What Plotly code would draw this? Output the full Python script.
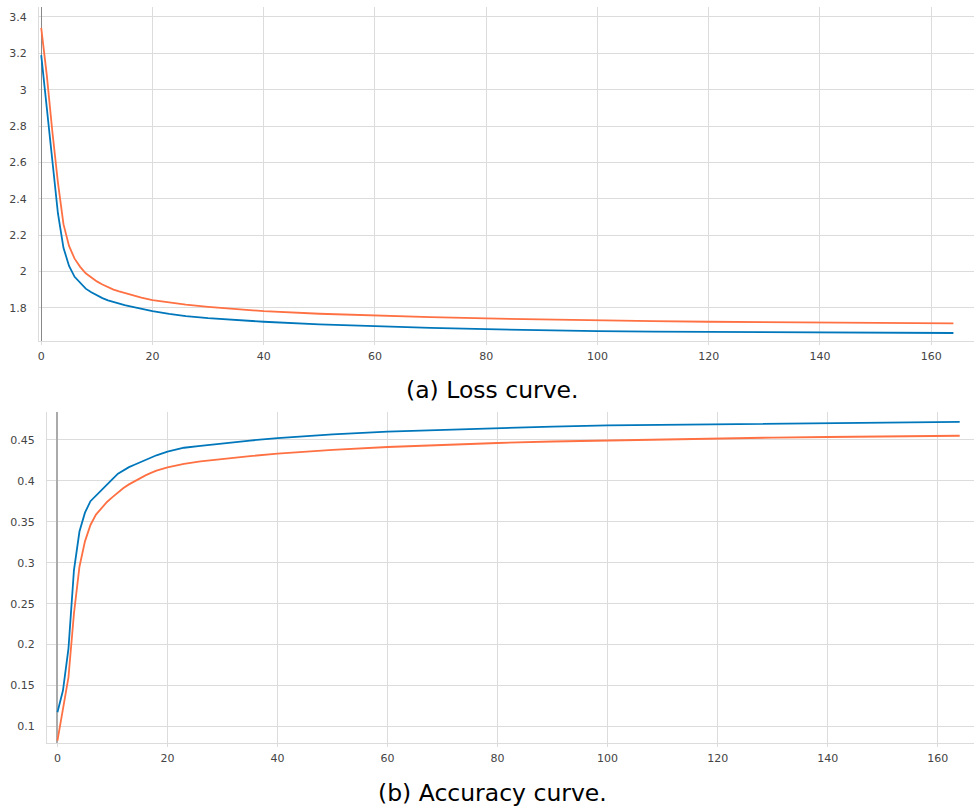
import plotly.graph_objects as go

W, H = 974, 810

# Epochs at which the curves are sampled
epochs = [0, 1, 2, 3, 4, 5, 6, 7, 8, 9, 10, 11, 12, 13, 14, 15, 16, 17, 18, 20, 23,
          26, 30, 35, 40, 50, 60, 70, 80, 90, 100, 110, 120, 130, 140, 150, 164]

# Loss curves
loss_blue = [3.19, 2.90, 2.60, 2.32, 2.13, 2.03, 1.97, 1.935, 1.905, 1.885, 1.868,
             1.853, 1.841, 1.831, 1.822, 1.815, 1.808, 1.801, 1.794, 1.781, 1.766,
             1.754, 1.743, 1.732, 1.723, 1.708, 1.697, 1.689, 1.682, 1.676, 1.671,
             1.669, 1.667, 1.666, 1.664, 1.663, 1.661]
loss_orange = [3.34, 3.08, 2.77, 2.49, 2.26, 2.14, 2.07, 2.025, 1.99, 1.965, 1.945,
               1.928, 1.913, 1.900, 1.890, 1.881, 1.873, 1.864, 1.856, 1.842, 1.828,
               1.817, 1.805, 1.792, 1.781, 1.767, 1.756, 1.748, 1.741, 1.735, 1.730,
               1.726, 1.723, 1.720, 1.718, 1.716, 1.714]

# Accuracy curves
acc_blue = [0.1175, 0.144, 0.195, 0.291, 0.338, 0.361, 0.375, 0.382, 0.389, 0.396,
            0.402, 0.4085, 0.413, 0.4165, 0.4195, 0.4225, 0.4255, 0.4285, 0.431,
            0.4354, 0.4402, 0.4425, 0.4455, 0.449, 0.452, 0.4565, 0.4598, 0.462,
            0.4643, 0.466, 0.4674, 0.468, 0.469, 0.4695, 0.4705, 0.471, 0.4718]
acc_orange = [0.083, 0.12, 0.16, 0.238, 0.295, 0.326, 0.346, 0.3586, 0.367, 0.374,
              0.380, 0.3857, 0.391, 0.3955, 0.3995, 0.4032, 0.4065, 0.4095, 0.4122,
              0.4163, 0.4205, 0.4235, 0.4265, 0.43, 0.4329, 0.4375, 0.4411, 0.4437,
              0.446, 0.4478, 0.4492, 0.4505, 0.4516, 0.4526, 0.4533, 0.454, 0.4548]

x_ticks = [0, 20, 40, 60, 80, 100, 120, 140, 160]
loss_ticks = [1.8, 2.0, 2.2, 2.4, 2.6, 2.8, 3.0, 3.2, 3.4]
loss_tick_text = ["1.8", "2", "2.2", "2.4", "2.6", "2.8", "3", "3.2", "3.4"]
acc_ticks = [0.1, 0.15, 0.2, 0.25, 0.3, 0.35, 0.4, 0.45]
acc_tick_text = ["0.1", "0.15", "0.2", "0.25", "0.3", "0.35", "0.4", "0.45"]

captions = ["(a) Loss curve.", "(b) Accuracy curve."]

BLUE = "#0077bb"
ORANGE = "#ff7043"
GRID = "#dcdcdc"
TICK_FONT = dict(family="DejaVu Sans", size=11, color="#444444")
CAPTION_FONT = dict(family="DejaVu Sans", size=23.5, color="black")


def py(px):
    return 1 - px / H


fig = go.Figure()
for xs, ys, color, xa, ya in [
    (epochs, loss_orange, ORANGE, "x", "y"),
    (epochs, loss_blue, BLUE, "x", "y"),
    (epochs, acc_orange, ORANGE, "x2", "y2"),
    (epochs, acc_blue, BLUE, "x2", "y2"),
]:
    fig.add_trace(go.Scatter(x=xs, y=ys, mode="lines", xaxis=xa, yaxis=ya,
                             line=dict(color=color, width=1.8), showlegend=False))

common_x = dict(tickvals=x_ticks, showgrid=True, gridcolor=GRID, gridwidth=1,
                showline=True, linecolor=GRID, linewidth=1, zeroline=True,
                ticks="outside", ticklen=3, tickcolor=GRID, tickfont=TICK_FONT,
                ticklabelstandoff=2)
common_y = dict(showgrid=True, gridcolor=GRID, gridwidth=1, showline=True,
                linecolor=GRID, linewidth=1, zeroline=False, ticks="",
                tickfont=TICK_FONT, ticklabelstandoff=9)

fig.update_layout(
    width=W, height=H,
    margin=dict(l=0, r=0, t=0, b=0),
    plot_bgcolor="white", paper_bgcolor="white",
    xaxis=dict(domain=[39 / W, 1], range=[-0.4, 167.7], anchor="y",
               zerolinecolor="#888888", zerolinewidth=1, **common_x),
    yaxis=dict(domain=[py(341), py(7)], range=[1.617, 3.455], anchor="x",
               tickvals=loss_ticks, ticktext=loss_tick_text, **common_y),
    xaxis2=dict(domain=[47 / W, 1], range=[-1.9, 166.6], anchor="y2",
                zerolinecolor="#aaaaaa", zerolinewidth=2, **common_x),
    yaxis2=dict(domain=[py(743), py(412)], range=[0.080, 0.4838], anchor="x2",
                tickvals=acc_ticks, ticktext=acc_tick_text, **common_y),
    annotations=[
        dict(text=captions[0], x=492 / W, y=py(390), xref="paper", yref="paper",
             showarrow=False, xanchor="center", yanchor="middle", font=CAPTION_FONT),
        dict(text=captions[1], x=492 / W, y=py(793), xref="paper", yref="paper",
             showarrow=False, xanchor="center", yanchor="middle", font=CAPTION_FONT),
    ],
)

fig.write_html("out.html")
